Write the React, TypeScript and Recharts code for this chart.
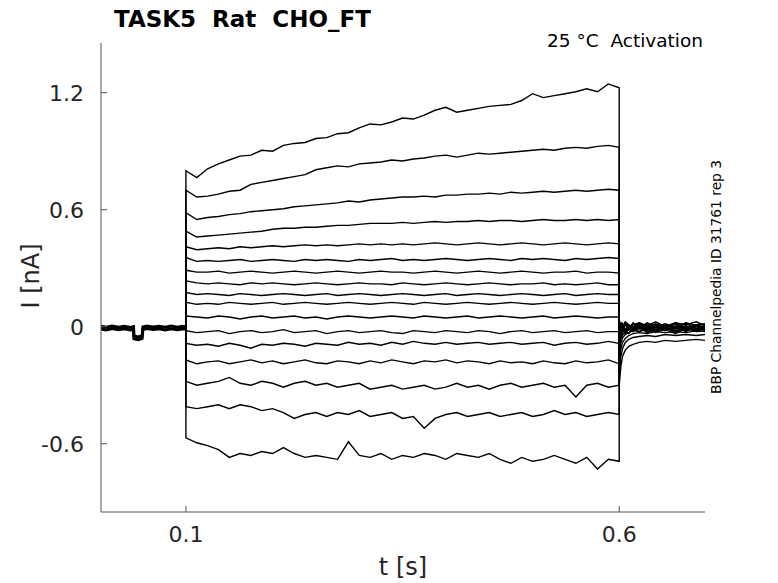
import React from "react";
import { LineChart, Line, XAxis, YAxis } from "recharts";

// time base (s)
const PRE_T = [0.002, 0.008, 0.015, 0.022, 0.029, 0.036, 0.0395, 0.04, 0.045, 0.0495, 0.0503, 0.055, 0.062, 0.069, 0.076, 0.083, 0.09, 0.096, 0.1];
const PULSE_T = [
  0.1, 0.1125, 0.125, 0.1375, 0.15, 0.1625, 0.175, 0.1875, 0.2, 0.2125, 0.225, 0.2375, 0.25, 0.2625,
  0.275, 0.2875, 0.3, 0.3125, 0.325, 0.3375, 0.35, 0.3625, 0.375, 0.3875, 0.4, 0.4125, 0.425, 0.4375,
  0.45, 0.4625, 0.475, 0.4875, 0.5, 0.5125, 0.525, 0.5375, 0.55, 0.5625, 0.575, 0.5875, 0.6,
];
const TAIL_T = [0.6, 0.602, 0.604, 0.607, 0.611, 0.616, 0.623, 0.632, 0.642, 0.653, 0.665, 0.677, 0.689, 0.699];

// holding baseline (nA), two overlapping noisy copies
const BASE_A = [0.003, -0.003, 0.004, -0.002, 0.002, -0.004, 0.0, -0.048, -0.052, -0.046, -0.001, 0.004, -0.001, 0.003, -0.003, 0.004, -0.002, 0.002, 0.0];
const BASE_B = [-0.011, -0.016, -0.009, -0.015, -0.01, -0.017, -0.013, -0.062, -0.066, -0.06, -0.014, -0.009, -0.014, -0.011, -0.016, -0.01, -0.015, -0.012, -0.012];

// step currents (nA), top sweep first
const PULSE_1 = [0.8, 0.765, 0.81, 0.835, 0.855, 0.875, 0.88, 0.905, 0.9, 0.93, 0.94, 0.945, 0.965, 0.97, 0.99, 0.995, 1.02, 1.04, 1.035, 1.05, 1.07, 1.065, 1.085, 1.11, 1.125, 1.1, 1.11, 1.12, 1.13, 1.135, 1.14, 1.16, 1.195, 1.175, 1.185, 1.195, 1.205, 1.22, 1.205, 1.245, 1.225];
const PULSE_2 = [0.7, 0.665, 0.67, 0.68, 0.695, 0.7, 0.73, 0.74, 0.75, 0.76, 0.77, 0.78, 0.805, 0.815, 0.825, 0.82, 0.835, 0.84, 0.845, 0.855, 0.85, 0.86, 0.865, 0.875, 0.88, 0.87, 0.88, 0.89, 0.885, 0.89, 0.895, 0.9, 0.905, 0.91, 0.905, 0.915, 0.92, 0.915, 0.925, 0.93, 0.92];
const PULSE_3 = [0.585, 0.55, 0.56, 0.565, 0.575, 0.58, 0.59, 0.595, 0.6, 0.605, 0.615, 0.62, 0.625, 0.63, 0.635, 0.645, 0.64, 0.65, 0.655, 0.66, 0.665, 0.665, 0.67, 0.665, 0.675, 0.675, 0.68, 0.68, 0.685, 0.68, 0.69, 0.685, 0.69, 0.695, 0.69, 0.695, 0.7, 0.695, 0.7, 0.705, 0.7];
const PULSE_4 = [0.49, 0.46, 0.465, 0.47, 0.475, 0.48, 0.485, 0.49, 0.5, 0.505, 0.505, 0.51, 0.51, 0.515, 0.52, 0.52, 0.525, 0.53, 0.53, 0.53, 0.535, 0.53, 0.535, 0.54, 0.535, 0.54, 0.54, 0.545, 0.54, 0.545, 0.545, 0.54, 0.545, 0.55, 0.545, 0.545, 0.55, 0.545, 0.55, 0.545, 0.55];
const PULSE_5 = [0.41, 0.395, 0.4, 0.405, 0.4, 0.41, 0.405, 0.41, 0.415, 0.41, 0.415, 0.42, 0.415, 0.42, 0.415, 0.42, 0.425, 0.42, 0.425, 0.42, 0.425, 0.42, 0.425, 0.43, 0.425, 0.42, 0.425, 0.43, 0.425, 0.42, 0.425, 0.43, 0.425, 0.42, 0.425, 0.43, 0.425, 0.42, 0.425, 0.43, 0.425];
const PULSE_6 = [0.355, 0.335, 0.34, 0.335, 0.34, 0.345, 0.335, 0.34, 0.345, 0.34, 0.335, 0.345, 0.34, 0.345, 0.34, 0.335, 0.345, 0.34, 0.345, 0.35, 0.34, 0.345, 0.34, 0.345, 0.35, 0.345, 0.34, 0.345, 0.35, 0.345, 0.34, 0.35, 0.345, 0.35, 0.345, 0.34, 0.35, 0.345, 0.35, 0.355, 0.35];
const PULSE_7 = [0.29, 0.28, 0.28, 0.285, 0.275, 0.28, 0.285, 0.28, 0.275, 0.28, 0.285, 0.28, 0.275, 0.28, 0.285, 0.28, 0.275, 0.28, 0.285, 0.28, 0.28, 0.275, 0.28, 0.285, 0.28, 0.275, 0.28, 0.285, 0.28, 0.275, 0.28, 0.285, 0.28, 0.275, 0.28, 0.28, 0.285, 0.275, 0.28, 0.28, 0.275];
const PULSE_8 = [0.235, 0.225, 0.22, 0.225, 0.22, 0.215, 0.225, 0.22, 0.225, 0.22, 0.215, 0.22, 0.225, 0.22, 0.215, 0.22, 0.225, 0.22, 0.22, 0.215, 0.225, 0.22, 0.215, 0.22, 0.225, 0.22, 0.215, 0.22, 0.225, 0.22, 0.215, 0.22, 0.22, 0.225, 0.215, 0.22, 0.215, 0.22, 0.225, 0.215, 0.215];
const PULSE_9 = [0.175, 0.165, 0.17, 0.165, 0.16, 0.17, 0.165, 0.16, 0.165, 0.17, 0.165, 0.16, 0.165, 0.17, 0.16, 0.165, 0.17, 0.165, 0.16, 0.165, 0.17, 0.165, 0.16, 0.165, 0.17, 0.16, 0.165, 0.17, 0.165, 0.16, 0.165, 0.17, 0.165, 0.16, 0.165, 0.17, 0.16, 0.165, 0.17, 0.165, 0.165];
const PULSE_10 = [0.125, 0.115, 0.12, 0.115, 0.125, 0.12, 0.115, 0.12, 0.125, 0.115, 0.12, 0.125, 0.12, 0.115, 0.12, 0.125, 0.12, 0.115, 0.12, 0.125, 0.12, 0.115, 0.125, 0.12, 0.115, 0.12, 0.125, 0.12, 0.115, 0.12, 0.125, 0.12, 0.115, 0.12, 0.125, 0.12, 0.115, 0.12, 0.125, 0.12, 0.12];
const PULSE_11 = [0.055, 0.05, 0.045, 0.055, 0.05, 0.04, 0.05, 0.055, 0.045, 0.05, 0.055, 0.045, 0.05, 0.04, 0.05, 0.055, 0.05, 0.045, 0.05, 0.055, 0.05, 0.045, 0.055, 0.05, 0.045, 0.05, 0.055, 0.045, 0.05, 0.055, 0.05, 0.045, 0.05, 0.055, 0.045, 0.05, 0.055, 0.05, 0.045, 0.05, 0.05];
const PULSE_12 = [-0.02, -0.03, -0.025, -0.02, -0.035, -0.025, -0.02, -0.03, -0.025, -0.015, -0.03, -0.025, -0.02, -0.035, -0.025, -0.02, -0.03, -0.025, -0.02, -0.03, -0.035, -0.02, -0.025, -0.03, -0.02, -0.025, -0.03, -0.02, -0.025, -0.035, -0.025, -0.02, -0.03, -0.025, -0.02, -0.03, -0.025, -0.02, -0.03, -0.025, -0.025];
const PULSE_13 = [-0.085, -0.095, -0.09, -0.1, -0.085, -0.095, -0.11, -0.09, -0.095, -0.085, -0.09, -0.1, -0.085, -0.09, -0.095, -0.08, -0.09, -0.085, -0.095, -0.08, -0.09, -0.075, -0.085, -0.09, -0.08, -0.09, -0.085, -0.08, -0.09, -0.085, -0.08, -0.09, -0.085, -0.08, -0.095, -0.085, -0.08, -0.09, -0.085, -0.075, -0.085];
const PULSE_14 = [-0.17, -0.19, -0.18, -0.175, -0.19, -0.18, -0.17, -0.185, -0.175, -0.19, -0.18, -0.17, -0.185, -0.19, -0.175, -0.18, -0.19, -0.175, -0.185, -0.17, -0.18, -0.19, -0.175, -0.18, -0.17, -0.185, -0.175, -0.18, -0.19, -0.175, -0.185, -0.18, -0.19, -0.175, -0.185, -0.19, -0.175, -0.185, -0.18, -0.17, -0.19];
const PULSE_15 = [-0.28, -0.3, -0.29, -0.28, -0.26, -0.29, -0.3, -0.28, -0.29, -0.31, -0.29, -0.28, -0.3, -0.29, -0.31, -0.3, -0.29, -0.32, -0.31, -0.3, -0.32, -0.31, -0.3, -0.32, -0.31, -0.29, -0.31, -0.3, -0.32, -0.3, -0.29, -0.31, -0.3, -0.29, -0.31, -0.3, -0.36, -0.3, -0.29, -0.31, -0.3];
const PULSE_16 = [-0.41, -0.42, -0.41, -0.4, -0.42, -0.4, -0.41, -0.43, -0.42, -0.44, -0.47, -0.45, -0.44, -0.46, -0.44, -0.45, -0.43, -0.46, -0.45, -0.44, -0.47, -0.46, -0.52, -0.47, -0.45, -0.44, -0.46, -0.45, -0.44, -0.46, -0.45, -0.44, -0.46, -0.45, -0.43, -0.45, -0.44, -0.46, -0.45, -0.44, -0.45];
const PULSE_17 = [-0.57, -0.595, -0.61, -0.63, -0.67, -0.65, -0.66, -0.64, -0.65, -0.62, -0.65, -0.67, -0.66, -0.67, -0.68, -0.59, -0.66, -0.67, -0.65, -0.68, -0.66, -0.67, -0.65, -0.66, -0.68, -0.65, -0.66, -0.67, -0.65, -0.68, -0.7, -0.67, -0.69, -0.68, -0.66, -0.68, -0.7, -0.67, -0.73, -0.68, -0.69];

// tail currents after the step (nA)
const TAIL_1 = [-0.3, -0.2, -0.15, -0.12, -0.1, -0.09, -0.08, -0.075, -0.08, -0.07, -0.075, -0.07, -0.065, -0.07];
const TAIL_2 = [-0.24, -0.15, -0.11, -0.08, -0.065, -0.055, -0.05, -0.045, -0.05, -0.04, -0.045, -0.04, -0.045, -0.04];
const TAIL_3 = [-0.19, -0.11, -0.08, -0.06, -0.045, -0.035, -0.03, -0.035, -0.025, -0.03, -0.025, -0.03, -0.02, -0.025];
const TAIL_4 = [-0.15, -0.08, -0.055, -0.04, -0.03, -0.02, -0.025, -0.015, -0.02, -0.01, -0.02, -0.015, -0.01, -0.015];
const TAIL_5 = [-0.12, -0.06, -0.04, -0.03, -0.015, -0.02, -0.01, -0.015, -0.005, -0.015, -0.01, -0.005, -0.015, -0.01];
const TAIL_6 = [-0.09, -0.045, -0.03, -0.015, -0.01, -0.015, -0.005, -0.01, 0.0, -0.01, -0.005, 0.005, -0.01, -0.005];
const TAIL_7 = [-0.07, -0.035, -0.02, -0.01, -0.005, 0.0, -0.01, 0.005, -0.005, 0.005, 0.0, -0.005, 0.005, 0.0];
const TAIL_8 = [-0.05, -0.03, -0.015, -0.025, -0.005, -0.02, 0.0, -0.015, -0.025, -0.005, -0.02, 0.0, -0.015, -0.01];
const TAIL_9 = [-0.035, -0.01, 0.005, -0.015, 0.01, -0.01, 0.015, -0.005, 0.01, -0.02, 0.005, -0.01, 0.01, -0.005];
const TAIL_10 = [-0.02, 0.01, -0.01, 0.02, 0.0, 0.015, -0.01, 0.02, 0.0, 0.015, -0.005, 0.02, 0.005, 0.015];
const TAIL_11 = [-0.01, 0.02, 0.0, 0.025, 0.01, -0.005, 0.02, 0.005, 0.025, 0.0, 0.02, 0.01, 0.025, 0.005];
const TAIL_12 = [0.0, -0.02, 0.01, -0.015, 0.005, -0.025, 0.0, -0.02, 0.01, -0.015, 0.0, -0.025, 0.005, -0.01];
const TAIL_13 = [0.005, 0.015, -0.005, 0.02, -0.01, 0.01, 0.02, -0.005, 0.015, 0.0, 0.02, -0.01, 0.01, 0.015];
const TAIL_14 = [0.01, -0.01, 0.015, -0.02, 0.005, -0.015, 0.01, -0.03, 0.0, -0.01, 0.015, -0.02, 0.0, -0.015];
const TAIL_15 = [0.015, -0.03, 0.0, -0.02, -0.035, -0.01, -0.025, 0.0, -0.03, -0.015, -0.035, -0.005, -0.025, -0.02];
const TAIL_16 = [0.02, 0.0, -0.02, 0.01, -0.015, 0.02, -0.005, 0.015, -0.02, 0.01, -0.01, 0.02, -0.015, 0.005];
const TAIL_17 = [0.02, -0.02, 0.01, -0.035, -0.01, -0.025, 0.005, -0.03, -0.015, 0.0, -0.035, -0.01, -0.025, -0.005];

const Y_TICKS = [-0.6, 0, 0.6, 1.2];
const X_TICKS = [0.1, 0.6];

const PULSES = [PULSE_1, PULSE_2, PULSE_3, PULSE_4, PULSE_5, PULSE_6, PULSE_7, PULSE_8, PULSE_9, PULSE_10, PULSE_11, PULSE_12, PULSE_13, PULSE_14, PULSE_15, PULSE_16, PULSE_17];
const TAILS = [TAIL_1, TAIL_2, TAIL_3, TAIL_4, TAIL_5, TAIL_6, TAIL_7, TAIL_8, TAIL_9, TAIL_10, TAIL_11, TAIL_12, TAIL_13, TAIL_14, TAIL_15, TAIL_16, TAIL_17];

const sweeps = PULSES.map((p, k) => [
  { t: PULSE_T[0], i: 0 },
  ...p.map((v, j) => ({ t: PULSE_T[j], i: v })),
  ...TAILS[k].map((v, j) => ({ t: TAIL_T[j], i: v })),
]);
const baseA = PRE_T.map((t, j) => ({ t, i: BASE_A[j] }));
const baseB = PRE_T.map((t, j) => ({ t, i: BASE_B[j] }));

const FONT = "DejaVu Sans";
const AXIS = "#555";
const INK = "#262626";

function YTick({ x, y, payload }: any) {
  return (
    <g>
      <line x1={x + 17} x2={x + 23} y1={y} y2={y} stroke={AXIS} />
      <text x={x} y={y} dy="0.36em" textAnchor="end" fontFamily={FONT} fontSize={22} fill={INK}>
        {String(payload.value)}
      </text>
    </g>
  );
}

function XTick({ x, y, payload }: any) {
  return (
    <g>
      <line x1={x} x2={x} y1={y} y2={y - 6} stroke={AXIS} />
      <text x={x} y={y + 30} textAnchor="middle" fontFamily={FONT} fontSize={22} fill={INK}>
        {String(payload.value)}
      </text>
    </g>
  );
}

export default function App() {
  return (
    <div style={{ position: "relative", width: 770, height: 575 }}>
      <LineChart width={770} height={575} margin={{ top: 35, right: 73, bottom: 31, left: 33 }}>
        <XAxis
          dataKey="t"
          type="number"
          domain={[0.002, 0.699]}
          allowDataOverflow
          ticks={X_TICKS}
          interval={0}
          height={40}
          tickSize={0}
          tickMargin={0}
          tickLine={false}
          axisLine={{ stroke: AXIS }}
          tick={<XTick />}
        />
        <YAxis
          type="number"
          domain={[-0.95, 1.455]}
          allowDataOverflow
          ticks={Y_TICKS}
          interval={0}
          width={60}
          tickSize={0}
          tickMargin={17}
          tickLine={false}
          axisLine={{ stroke: AXIS }}
          tick={<YTick />}
        />
        <Line data={baseA} dataKey="i" stroke="#000" strokeWidth={3} dot={false} isAnimationActive={false} />
        <Line data={baseB} dataKey="i" stroke="#000" strokeWidth={3} dot={false} isAnimationActive={false} />
        {sweeps.map((d, k) => (
          <Line key={k} data={d} dataKey="i" stroke="#000" strokeWidth={1.4} dot={false} isAnimationActive={false} />
        ))}
      </LineChart>
      <svg
        width={770}
        height={575}
        style={{ position: "absolute", left: 0, top: 0, pointerEvents: "none", overflow: "visible" }}
      >
        <text x={106} y={19} fontFamily={FONT} fontWeight="bold" fontSize={23} fill="#000" style={{ whiteSpace: "pre" }}>
          {"TASK5  Rat  CHO_FT"}
        </text>
        <text x={695} y={39} textAnchor="end" fontFamily={FONT} fontSize={18.5} fill="#000" style={{ whiteSpace: "pre" }}>
          {"25 °C  Activation"}
        </text>
        <text transform="translate(22, 268) rotate(-90)" textAnchor="middle" dy="0.36em" fontFamily={FONT} fontSize={24} fill={INK}>
          I [nA]
        </text>
        <text x={395} y={567} textAnchor="middle" fontFamily={FONT} fontSize={24} fill={INK}>
          t [s]
        </text>
        <text transform="translate(708, 269) rotate(-90)" textAnchor="middle" dy="0.36em" fontFamily={FONT} fontSize={13.8} fill="#000">
          BBP Channelpedia ID 31761 rep 3
        </text>
      </svg>
    </div>
  );
}
